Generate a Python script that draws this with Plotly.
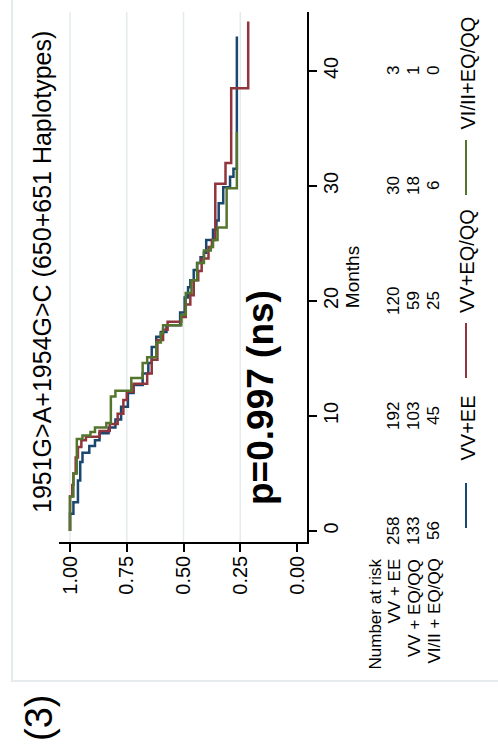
import plotly.graph_objects as go

W, H = 498, 756
FONT = "Liberation Sans, Arial, sans-serif"

# Kaplan-Meier step data: event times (months) and survival after each event
vvee_t = [0, 1.5, 2.5, 4.4, 6.0, 6.8, 7.4, 7.9, 8.5, 9.0, 9.7, 10.8, 12.0, 12.7, 13.7,
          14.6, 16.0, 16.9, 17.3, 17.9, 19.0, 20.3, 21.2, 21.8, 22.7, 23.3, 23.8, 24.2,
          25.3, 26.2, 27.0, 28.5, 29.9, 30.8, 31.5, 43.0]
vvee_s = [1.0, 0.985, 0.965, 0.955, 0.945, 0.915, 0.89, 0.87, 0.83, 0.80, 0.775, 0.745,
          0.72, 0.68, 0.655, 0.64, 0.62, 0.60, 0.575, 0.515, 0.495, 0.48, 0.47, 0.455,
          0.44, 0.425, 0.41, 0.40, 0.37, 0.355, 0.345, 0.325, 0.295, 0.28, 0.265, 0.265]

vveq_t = [0, 3.0, 4.0, 5.0, 6.4, 7.3, 7.9, 8.2, 8.7, 9.3, 10.2, 11.4, 12.1, 12.8, 13.7,
          14.9, 16.6, 17.5, 18.2, 18.6, 19.7, 20.5, 21.8, 22.6, 23.7, 24.7, 25.3, 30.2,
          32.0, 38.5, 44.3]
vveq_s = [1.0, 0.99, 0.985, 0.975, 0.965, 0.95, 0.93, 0.87, 0.825, 0.79, 0.765, 0.75,
          0.72, 0.66, 0.64, 0.615, 0.59, 0.57, 0.51, 0.49, 0.47, 0.455, 0.435, 0.42,
          0.39, 0.375, 0.36, 0.315, 0.29, 0.215, 0.215]

viqq_t = [0, 3.0, 5.0, 8.0, 8.3, 8.6, 9.0, 9.4, 11.7, 12.2, 13.3, 14.6, 15.1, 16.4, 17.2,
          17.9, 18.8, 20.7, 21.8, 23.3, 24.4, 24.7, 25.3, 26.4, 29.8, 34.7]
viqq_s = [1.0, 0.985, 0.97, 0.945, 0.91, 0.89, 0.84, 0.82, 0.80, 0.73, 0.68, 0.66, 0.62,
          0.60, 0.59, 0.51, 0.49, 0.465, 0.44, 0.41, 0.38, 0.37, 0.35, 0.31, 0.265, 0.265]

groups = ["VV+EE", "VV+EQ/QQ", "VI/II+EQ/QQ"]
risk_labels = ["VV + EE", "VV + EQ/QQ", "VI/II + EQ/QQ"]
colors = ["#1a476f", "#90353b", "#55752f"]

risk_months = [0, 10, 20, 30, 40]
risk_counts = [
    [258, 192, 120, 30, 3],
    [133, 103, 59, 18, 1],
    [56, 45, 25, 6, 0],
]

surv_ticks = [1.0, 0.75, 0.5, 0.25, 0.0]
surv_ticktext = ["1.00", "0.75", "0.50", "0.25", "0.00"]
month_ticks = [0, 10, 20, 30, 40]

title_text = "1951G>A+1954G>C (650+651 Haplotypes)"
pvalue_text = "p=0.997 (ns)"
panel_text = "(3)"


def px(x):
    return x / W


def py(y):
    return 1 - y / H


fig = go.Figure()
for t, s, name, c in zip([vvee_t, vveq_t, viqq_t], [vvee_s, vveq_s, viqq_s], groups, colors):
    fig.add_trace(go.Scatter(x=s, y=t, mode="lines", name=name,
                             line=dict(color=c, width=2.5, shape="vh"),
                             showlegend=False))

shapes = []
# vertical grid lines at survival ticks (none at zero)
for v in surv_ticks:
    if v > 0:
        shapes.append(dict(type="line", xref="x", yref="y domain", x0=v, x1=v, y0=0, y1=1,
                           line=dict(color="#e3ebee", width=1.5), layer="below"))
# outer frame of the graph region
shapes.append(dict(type="rect", xref="paper", yref="paper", x0=px(12), x1=px(520),
                   y0=py(681), y1=py(-10), line=dict(color="#e4ecee", width=2),
                   layer="below"))

annotations = []
annotations.append(dict(text=title_text, xref="paper", yref="paper", x=px(42), y=py(272),
                        textangle=-90, showarrow=False, xanchor="center", yanchor="middle",
                        font=dict(family=FONT, size=25, color="black")))
annotations.append(dict(text="<b>" + pvalue_text + "</b>", xref="paper", yref="paper",
                        x=px(260), y=py(398), textangle=-90, showarrow=False,
                        xanchor="center", yanchor="middle",
                        font=dict(family=FONT, size=37, color="black")))
annotations.append(dict(text=panel_text, xref="paper", yref="paper", x=px(39), y=py(718),
                        textangle=-90, showarrow=False, xanchor="center", yanchor="middle",
                        font=dict(family=FONT, size=38, color="black")))

# number-at-risk table
annotations.append(dict(text="Number at risk", xref="paper", yref="paper", x=px(375),
                        y=py(557), textangle=-90, showarrow=False, xanchor="center",
                        yanchor="top", font=dict(family=FONT, size=17, color="black")))
row_x = [394, 414, 434]
for lab, rx, counts in zip(risk_labels, row_x, risk_counts):
    annotations.append(dict(text=lab, xref="paper", yref="paper", x=px(rx), y=py(557),
                            textangle=-90, showarrow=False, xanchor="center", yanchor="top",
                            font=dict(family=FONT, size=17, color="black")))
    for m, n in zip(risk_months, counts):
        annotations.append(dict(text=str(n), xref="paper", yref="y", x=px(rx), y=m,
                                textangle=-90, showarrow=False, xanchor="center",
                                yanchor="middle",
                                font=dict(family=FONT, size=17, color="black")))

# legend: line samples and labels
legend_items = [
    (groups[0], colors[0], (483, 528), (397, 463)),
    (groups[1], colors[1], (323, 378), (210, 315)),
    (groups[2], colors[2], (140, 195), (15, 132)),
]
for name, c, (l0, l1), (t0, t1) in legend_items:
    shapes.append(dict(type="line", xref="paper", yref="paper", x0=px(466), x1=px(466),
                       y0=py(l0), y1=py(l1), line=dict(color=c, width=2)))
    annotations.append(dict(text=name, xref="paper", yref="paper", x=px(467), y=py(t1),
                            textangle=-90, showarrow=False, xanchor="center",
                            yanchor="bottom",
                            font=dict(family=FONT, size=20, color="black")))

fig.update_layout(
    width=W, height=H,
    margin=dict(l=0, r=0, t=0, b=0),
    paper_bgcolor="white", plot_bgcolor="white",
    font=dict(family=FONT, color="black"),
    shapes=shapes, annotations=annotations,
    xaxis=dict(domain=[px(59), px(307)], range=[1.0485, -0.044],
               tickvals=surv_ticks, ticktext=surv_ticktext, tickangle=-90,
               ticks="outside", ticklen=8, tickwidth=1.5, tickcolor="black",
               ticklabelstandoff=-4,
               showline=True, linecolor="black", linewidth=1.5,
               showgrid=False, zeroline=False,
               tickfont=dict(family=FONT, size=20, color="black")),
    yaxis=dict(domain=[py(542), py(12)], range=[-0.957, 45.13], side="right",
               tickvals=month_ticks, tickangle=-90,
               ticks="outside", ticklen=8, tickwidth=1.5, tickcolor="black",
               ticklabelstandoff=-3,
               showline=True, linecolor="black", linewidth=1.5,
               showgrid=False, zeroline=False,
               tickfont=dict(family=FONT, size=20, color="black"),
               title=dict(text="Months", standoff=1,
                          font=dict(family=FONT, size=19, color="black"))),
)

fig.write_html("out.html")
